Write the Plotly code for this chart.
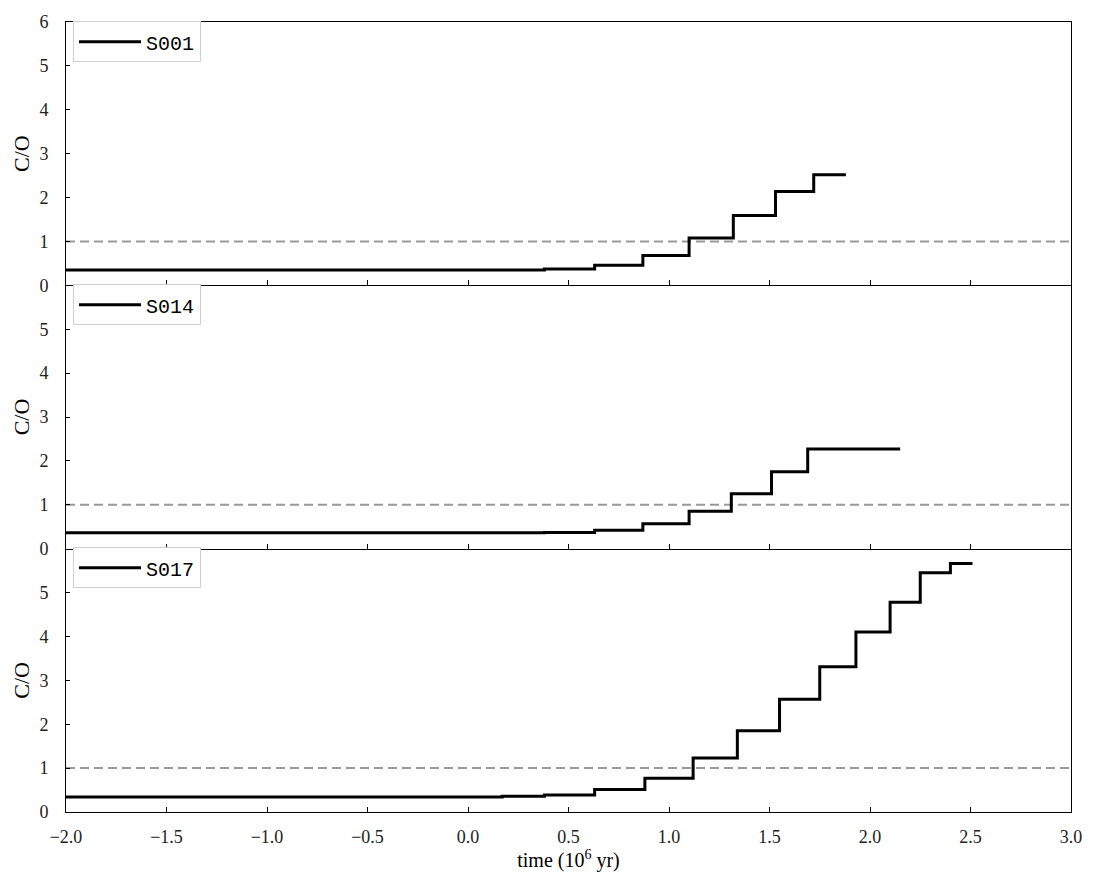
import plotly.graph_objects as go
from plotly.subplots import make_subplots

# Step-wise C/O evolution: times where each level begins (last entry = end time)
s001_time = [-2.0, 0.38, 0.63, 0.87, 1.10, 1.32, 1.53, 1.72, 1.88]
s001_co = [0.35, 0.37, 0.46, 0.68, 1.08, 1.59, 2.14, 2.52]

s014_time = [-2.0, 0.38, 0.63, 0.87, 1.10, 1.31, 1.51, 1.69, 2.15]
s014_co = [0.36, 0.37, 0.42, 0.57, 0.85, 1.25, 1.75, 2.27]

s017_time = [-2.0, 0.17, 0.38, 0.63, 0.88, 1.12, 1.34, 1.55, 1.75, 1.93, 2.10, 2.25, 2.40, 2.51]
s017_co = [0.34, 0.36, 0.39, 0.51, 0.77, 1.23, 1.85, 2.57, 3.31, 4.10, 4.78, 5.45, 5.66]

series_names = ["S001", "S014", "S017"]
series_time = [s001_time, s014_time, s017_time]
series_co = [s001_co, s014_co, s017_co]

# Solar-like C/O = 1 reference
ref_co = 1.0
time_range = [-2.0, 3.0]
co_range = [0, 6]
x_ticks = [-2.0, -1.5, -1.0, -0.5, 0.0, 0.5, 1.0, 1.5, 2.0, 2.5, 3.0]
y_ticks_top = [0, 1, 2, 3, 4, 5, 6]
y_ticks_lower = [0, 1, 2, 3, 4, 5]

SERIF = "Liberation Serif"
MONO = "Liberation Mono"

fig = make_subplots(rows=3, cols=1, shared_xaxes=True, vertical_spacing=0)

legend_keys = ["legend", "legend2", "legend3"]
legend_tops = [1.001, 0.668, 0.335]

for i, (name, t, co) in enumerate(zip(series_names, series_time, series_co)):
    row = i + 1
    fig.add_trace(
        go.Scatter(
            x=time_range, y=[ref_co, ref_co], mode="lines",
            line=dict(color="#999999", width=2, dash="9px,5px"),
            showlegend=False, hoverinfo="skip",
        ),
        row=row, col=1,
    )
    fig.add_trace(
        go.Scatter(
            x=t, y=co + [co[-1]], mode="lines", name=name,
            line=dict(color="black", width=3, shape="hv"),
            legend=legend_keys[i],
        ),
        row=row, col=1,
    )

axis_common = dict(
    showline=True, linecolor="black", linewidth=1,
    showgrid=False, zeroline=False,
    ticks="inside", tickcolor="black",
    tickfont=dict(family=SERIF, size=18, color="#222"),
)

for row in (1, 2, 3):
    # only the top panel draws its upper frame edge; lower panels share the one above
    fig.update_xaxes(
        range=time_range, tickvals=x_ticks, tickformat=".1f", ticklen=5,
        mirror=(row == 1), ticklabelstandoff=8,
        row=row, col=1, **axis_common,
    )
    fig.update_yaxes(
        range=co_range,
        tickvals=y_ticks_top if row == 1 else y_ticks_lower,
        ticklen=4, mirror=True, ticklabelstandoff=13,
        title=dict(text="C/O", font=dict(family=SERIF, size=22, color="black"), standoff=3),
        row=row, col=1, **axis_common,
    )

fig.update_xaxes(
    title=dict(text="time (10<sup>6</sup> yr)", font=dict(family=SERIF, size=20, color="black"), standoff=2),
    row=3, col=1,
)

legend_style = dict(
    x=0.007, xanchor="left", yanchor="top",
    bgcolor="white", bordercolor="#d0d0d0", borderwidth=1,
    itemwidth=62,
    font=dict(family=MONO, size=20, color="black"),
)
fig.update_layout(
    width=1099, height=880,
    margin=dict(l=66, r=28, t=13, b=68),
    plot_bgcolor="white", paper_bgcolor="white",
    legend=dict(y=legend_tops[0], **legend_style),
    legend2=dict(y=legend_tops[1], **legend_style),
    legend3=dict(y=legend_tops[2], **legend_style),
)

fig.write_html("out.html")
